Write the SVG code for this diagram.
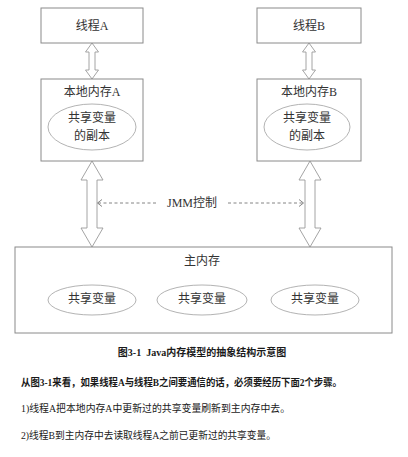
<svg xmlns="http://www.w3.org/2000/svg" width="408" height="457" viewBox="0 0 408 457">
<style>
.box{fill:#fff;stroke:#8a8a8a;stroke-width:1}
.ell{fill:#fff;stroke:#a0a0a0;stroke-width:0.8}
.arr{fill:#fff;stroke:#9a9a9a;stroke-width:0.9;stroke-linejoin:miter}
.dash{fill:none;stroke:#777;stroke-width:0.9;stroke-dasharray:3,2.5}
.chev{fill:none;stroke:#777;stroke-width:0.9}
.t{font-family:"Liberation Serif","Noto Sans CJK SC",serif;font-size:12px;fill:#333;text-anchor:middle;dominant-baseline:central}
.p{font-family:"Liberation Serif","Noto Sans CJK SC",serif;font-size:10px;fill:#1a1a1a}
.b{font-weight:bold}
</style>
<rect width="408" height="457" fill="#fff"/>
<g id="connectors">
<polygon class="arr" points="92,43 98.5,52 95,52 95,70 98.5,70 92,79 85.5,70 89,70 89,52 85.5,52"/>
<polygon class="arr" points="309,43 315.5,52 312,52 312,70 315.5,70 309,79 302.5,70 306,70 306,52 302.5,52"/>
<polygon class="arr" points="92,161 103,180 97,180 97,228 103,228 92,247 81,228 87,228 87,180 81,180"/>
<polygon class="arr" points="310,161 321,180 315,180 315,228 321,228 310,247 299,228 305,228 305,180 299,180"/>
<line class="dash" x1="98" y1="203" x2="158" y2="203"/>
<line class="dash" x1="228" y1="203" x2="303" y2="203"/>
<polyline class="chev" points="102,199.5 97.5,203 102,206.5"/>
<polyline class="chev" points="299,199.5 303.5,203 299,206.5"/>
<text class="t" x="192" y="203">JMM控制</text>
</g>
<g id="threadA">
<rect class="box" x="41" y="8" width="102" height="35"/>
<text class="t" x="92" y="26">线程A</text>
</g>
<g id="threadB">
<rect class="box" x="257" y="8" width="104" height="35"/>
<text class="t" x="309" y="26">线程B</text>
</g>
<g id="localA">
<rect class="box" x="41" y="79" width="102" height="82"/>
<text class="t" x="92" y="92">本地内存A</text>
<ellipse class="ell" cx="92" cy="127" rx="44" ry="23"/>
<text class="t" x="92" y="118">共享变量</text>
<text class="t" x="92" y="136">的副本</text>
</g>
<g id="localB">
<rect class="box" x="257" y="79" width="104" height="82"/>
<text class="t" x="309" y="92">本地内存B</text>
<ellipse class="ell" cx="307" cy="127" rx="43" ry="23"/>
<text class="t" x="307" y="118">共享变量</text>
<text class="t" x="307" y="136">的副本</text>
</g>
<g id="mainMemory">
<rect class="box" x="15" y="247" width="377" height="86"/>
<text class="t" x="202" y="261">主内存</text>
<ellipse class="ell" cx="92" cy="300" rx="44" ry="15"/>
<text class="t" x="92" y="299">共享变量</text>
<ellipse class="ell" cx="202" cy="300" rx="45" ry="15"/>
<text class="t" x="202" y="299">共享变量</text>
<ellipse class="ell" cx="315" cy="300" rx="44" ry="15"/>
<text class="t" x="315" y="299">共享变量</text>
</g>
<text class="p b" x="202" y="356" text-anchor="middle">图3-1&#160; Java内存模型的抽象结构示意图</text>
<text class="p b" x="21" y="386" textLength="321" lengthAdjust="spacingAndGlyphs">从图3-1来看，如果线程A与线程B之间要通信的话，必须要经历下面2个步骤。</text>
<text class="p" x="21" y="412" textLength="269" lengthAdjust="spacingAndGlyphs">1)线程A把本地内存A中更新过的共享变量刷新到主内存中去。</text>
<text class="p" x="21" y="439" textLength="255" lengthAdjust="spacingAndGlyphs">2)线程B到主内存中去读取线程A之前已更新过的共享变量。</text>
</svg>
